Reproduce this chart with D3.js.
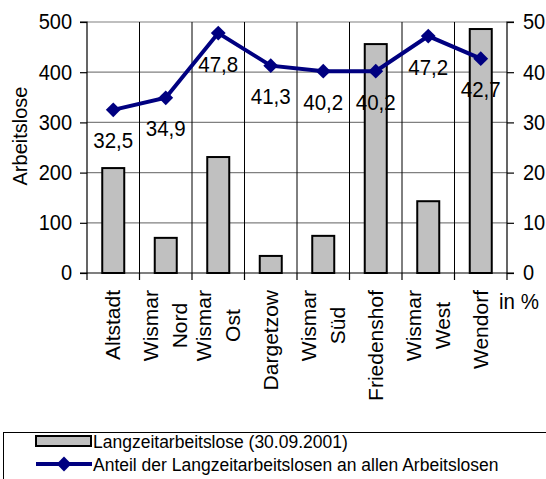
<!DOCTYPE html>
<html>
<head>
<meta charset="utf-8">
<script src="https://cdn.jsdelivr.net/npm/d3@7"></script>
<style>
  html, body { margin: 0; padding: 0; background: #fff; }
  svg { display: block; font-family: "Liberation Sans", Arial, sans-serif; }
</style>
</head>
<body>
<svg id="chart" width="546" height="479"></svg>
<script>
// Stadtteile (Zeilen der Beschriftung durch \n getrennt)
const categories = ["Altstadt", "Wismar\nNord", "Wismar\nOst", "Dargetzow", "Wismar\nSüd", "Friedenshof", "Wismar\nWest", "Wendorf"];
// Langzeitarbeitslose absolut (30.09.2001)
const longTermUnemployed = [209, 70, 231, 34, 74, 456, 143, 486];
// Anteil der Langzeitarbeitslosen an allen Arbeitslosen in %
const shareLongTerm = [32.5, 34.9, 47.8, 41.3, 40.2, 40.2, 47.2, 42.7];
const leftTicks = [0, 100, 200, 300, 400, 500];
const rightTicks = [0, 10, 20, 30, 40, 50];
const legendLabels = ["Langzeitarbeitslose (30.09.2001)", "Anteil der Langzeitarbeitslosen an allen Arbeitslosen"];

const svg = d3.select("#chart");
const plot = { left: 87, right: 507, top: 22, bottom: 273 };
const stretch = 1.08; // Schrift etwas höher als breit

const x = d3.scaleBand().domain(categories).range([plot.left, plot.right]).paddingInner(0).paddingOuter(0);
const yL = d3.scaleLinear().domain([0, 500]).range([plot.bottom, plot.top]);
const yR = d3.scaleLinear().domain([0, 50]).range([plot.bottom, plot.top]);

const fmt = v => String(v).replace(".", ",");

// horizontale Gitterlinien
svg.append("g").selectAll("line").data(leftTicks.slice(1)).join("line")
  .attr("x1", plot.left).attr("x2", plot.right)
  .attr("y1", d => yL(d)).attr("y2", d => yL(d))
  .attr("stroke", "#808080").attr("stroke-width", 1.2);

// vertikale Gitterlinien an den Kategoriegrenzen
svg.append("g").selectAll("line").data(categories.slice(1)).join("line")
  .attr("x1", d => x(d)).attr("x2", d => x(d))
  .attr("y1", plot.top).attr("y2", plot.bottom)
  .attr("stroke", "#000").attr("stroke-width", 1);

// Säulen
const barW = 22;
svg.append("g").selectAll("rect").data(longTermUnemployed).join("rect")
  .attr("x", (d, i) => x(categories[i]) + x.bandwidth() / 2 - barW / 2)
  .attr("y", d => yL(d))
  .attr("width", barW)
  .attr("height", d => yL(0) - yL(d))
  .attr("fill", "#c0c0c0").attr("stroke", "#000").attr("stroke-width", 2);

// Achsen
const leftAxis = d3.axisLeft(yL).tickValues(leftTicks).tickSize(7).tickPadding(8);
const gL = svg.append("g").attr("transform", `translate(${plot.left},0)`).call(leftAxis);
const rightAxis = d3.axisRight(yR).tickValues(rightTicks).tickSize(7).tickPadding(9);
const gR = svg.append("g").attr("transform", `translate(${plot.right},0)`).call(rightAxis);
[gL, gR].forEach(g => {
  g.select(".domain").attr("stroke", "#000").attr("stroke-width", 1.2).attr("d",
    g === gL ? `M-7,${plot.top}H0V${plot.bottom}H-7` : `M7,${plot.top}H0V${plot.bottom}H7`);
  g.selectAll(".tick line").attr("stroke", "#000").attr("stroke-width", 1.2);
  g.selectAll(".tick text").attr("fill", "#000")
    .attr("transform", `scale(1,${stretch})`)
    .style("font-size", "20px").style("font-family", "Liberation Sans, Arial, sans-serif");
});

// x-Achse mit Teilstrichen an den Kategoriegrenzen
const xBounds = categories.map(c => x(c)).concat([plot.right]);
svg.append("line").attr("x1", plot.left).attr("x2", plot.right)
  .attr("y1", plot.bottom).attr("y2", plot.bottom).attr("stroke", "#000").attr("stroke-width", 1.2);
svg.append("g").selectAll("line").data(xBounds).join("line")
  .attr("x1", d => d).attr("x2", d => d)
  .attr("y1", plot.bottom).attr("y2", plot.bottom + 7)
  .attr("stroke", "#000").attr("stroke-width", 1.2);

// Kategorienbeschriftung, um 90° gedreht
const labelTop = 290, linePitch = 29, labelSize = "21px";
categories.forEach(c => {
  const lines = c.split("\n");
  const cx = x(c) + x.bandwidth() / 2;
  const tmp = lines.map(l => svg.append("text").style("font-size", labelSize).text(l));
  const maxLen = d3.max(tmp, t => t.node().getComputedTextLength());
  tmp.forEach(t => t.remove());
  lines.forEach((l, i) => {
    const bx = cx + 7 + (i - (lines.length - 1) / 2) * linePitch;
    svg.append("text")
      .attr("transform", `translate(${bx},${labelTop + maxLen / 2}) rotate(-90)`)
      .attr("text-anchor", "middle")
      .style("font-size", labelSize)
      .text(l);
  });
});

// Achsentitel
svg.append("text")
  .attr("transform", `translate(27,136) rotate(-90)`)
  .attr("text-anchor", "middle").style("font-size", "20px").text("Arbeitslose");
svg.append("text").attr("transform", `translate(499,309) scale(1,${stretch})`)
  .style("font-size", "20.5px").text("in %");

// Linie mit Rauten
const cxOf = i => x(categories[i]) + x.bandwidth() / 2;
const line = d3.line().x((d, i) => cxOf(i)).y(d => yR(d));
svg.append("path").datum(shareLongTerm).attr("d", line)
  .attr("fill", "none").attr("stroke", "#000080").attr("stroke-width", 4).attr("stroke-linejoin", "miter");
const diamond = d3.symbol().type(d3.symbolDiamond2).size(140);
svg.append("g").selectAll("path").data(shareLongTerm).join("path")
  .attr("transform", (d, i) => `translate(${cxOf(i)},${yR(d)})`)
  .attr("d", diamond).attr("fill", "#000080");

// Werte der Linie
svg.append("g").selectAll("text").data(shareLongTerm).join("text")
  .attr("transform", (d, i) => `translate(${cxOf(i)},${yR(d) + 38.5}) scale(1,${stretch})`)
  .attr("text-anchor", "middle").style("font-size", "20.5px")
  .text(d => fmt(d));

// Legende
const lg = svg.append("g");
lg.append("rect").attr("x", 3.5).attr("y", 432.5).attr("width", 560).attr("height", 80)
  .attr("fill", "#fff").attr("stroke", "#000").attr("stroke-width", 1);
lg.append("rect").attr("x", 36).attr("y", 436).attr("width", 55).attr("height", 10)
  .attr("fill", "#c0c0c0").attr("stroke", "#000").attr("stroke-width", 2);
lg.append("text").attr("transform", `translate(93,447.5) scale(1,${stretch})`)
  .style("font-size", "17.5px").text(legendLabels[0]);
lg.append("line").attr("x1", 36).attr("x2", 92).attr("y1", 464).attr("y2", 464)
  .attr("stroke", "#000080").attr("stroke-width", 4);
lg.append("path").attr("transform", "translate(64,464)").attr("d", diamond).attr("fill", "#000080");
lg.append("text").attr("transform", `translate(93,470.5) scale(1,${stretch})`)
  .style("font-size", "17.5px").text(legendLabels[1]);
</script>
</body>
</html>
